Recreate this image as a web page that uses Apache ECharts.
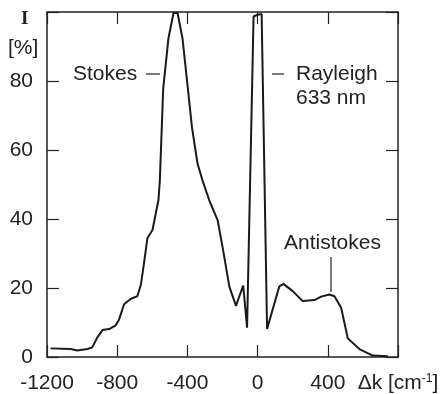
<!DOCTYPE html>
<html>
<head>
<meta charset="utf-8">
<script src="https://cdn.jsdelivr.net/npm/echarts@6/dist/echarts.min.js"></script>
<style>
html,body{margin:0;padding:0;background:#fff;}
#c{width:442px;height:394px;}
</style>
</head>
<body>
<div id="c"></div>
<script>
// Raman shift Δk [cm^-1]
var shift = [-1180,-1065,-1027,-970,-942,-913,-884,-846,-808,-789,-761,-722,-685,-665,-647,-628,-599,-565,-557,-538,-508,-479,-456,-428,-374,-342,-314,-276,-228,-200,-161,-123,-104,-82,-60,-23,0,23,54,86,124,147,200,257,324,362,409,438,476,514,580,656,742];
// Intensity I [%]
var intensity = [2.5,2.3,1.9,2.3,2.8,5.7,7.8,8.1,9.2,10.9,15.3,16.9,17.6,21.0,27.3,34.4,36.8,45.5,51.2,77.7,92.4,99.7,99.7,92.4,66.6,56.0,51.2,45.5,39.7,32.0,20.4,14.8,17.6,20.7,8.5,98.7,99.2,99.4,8.1,13.8,20.5,21.2,19.1,16.2,16.5,17.5,18.1,17.6,14.3,5.4,2.3,0.4,0.2];
var xTicks = [-1200,-800,-400,0,400,800];
var yTicks = [0,20,40,60,80,100];

var chart = echarts.init(document.getElementById('c'), null, {renderer:'canvas'});
var FONT = 'Liberation Sans';
var INK = '#222';
var pts = shift.map(function(x,i){return [x,intensity[i]];});

var axisLine = {show:true, onZero:false, lineStyle:{color:INK, width:1.5}};
var axisTick = {show:true, inside:true, length:12, lineStyle:{color:INK, width:1.2}};

chart.setOption({
  animation:false,
  backgroundColor:'#fff',
  grid:{left:47, right:44, top:12, bottom:36, containLabel:false},
  xAxis:[{
    type:'value', min:xTicks[0], max:xTicks[xTicks.length-1], interval:400, position:'bottom',
    axisLine:axisLine, axisTick:axisTick, splitLine:{show:false},
    axisLabel:{interval:0, showMaxLabel:true, showMinLabel:true, margin:16, color:INK, fontFamily:FONT, fontSize:21,
      formatter:function(v){ if(v===800) return 'Δk [cm{sup|-1}]'; return String(v); },
      rich:{sup:{fontSize:12, fontFamily:FONT, color:INK, verticalAlign:'top', padding:[0,0,6,0]}}
    }
  },{
    type:'value', min:xTicks[0], max:xTicks[xTicks.length-1], interval:400, position:'top',
    axisLine:axisLine, axisTick:axisTick, splitLine:{show:false}, axisLabel:{show:false}
  }],
  yAxis:[{
    type:'value', min:yTicks[0], max:yTicks[yTicks.length-1], interval:20, position:'left',
    axisLine:axisLine, axisTick:axisTick, splitLine:{show:false},
    axisLabel:{margin:14, color:INK, fontFamily:FONT, fontSize:21,
      formatter:function(v){ return v===100 ? '' : String(v); }}
  },{
    type:'value', min:yTicks[0], max:yTicks[yTicks.length-1], interval:20, position:'right',
    axisLine:axisLine, axisTick:axisTick, splitLine:{show:false}, axisLabel:{show:false}
  }],
  series:[{
    type:'line', data:pts, showSymbol:false, smooth:false,
    lineStyle:{color:'#1a1a1a', width:2}, clip:true
  }],
  graphic:[
    {type:'text', left:21, top:10, style:{text:'I', font:'bold 19px "Liberation Serif"', fill:INK}},
    {type:'text', left:8, top:38, style:{text:'[%]', font:'21px "Liberation Sans"', fill:INK}},
    {type:'text', left:73, top:64, style:{text:'Stokes', font:'21px "Liberation Sans"', fill:INK}},
    {type:'line', shape:{x1:146, y1:74, x2:160, y2:74}, style:{stroke:INK, lineWidth:1.2}},
    {type:'line', shape:{x1:272, y1:74, x2:284, y2:74}, style:{stroke:INK, lineWidth:1.2}},
    {type:'text', left:296, top:64, style:{text:'Rayleigh', font:'21px "Liberation Sans"', fill:INK}},
    {type:'text', left:296, top:88, style:{text:'633 nm', font:'21px "Liberation Sans"', fill:INK}},
    {type:'text', left:284, top:233, style:{text:'Antistokes', font:'21px "Liberation Sans"', fill:INK}},
    {type:'line', shape:{x1:331, y1:257, x2:331, y2:292}, style:{stroke:INK, lineWidth:1.2}}
  ]
});
</script>
</body>
</html>
